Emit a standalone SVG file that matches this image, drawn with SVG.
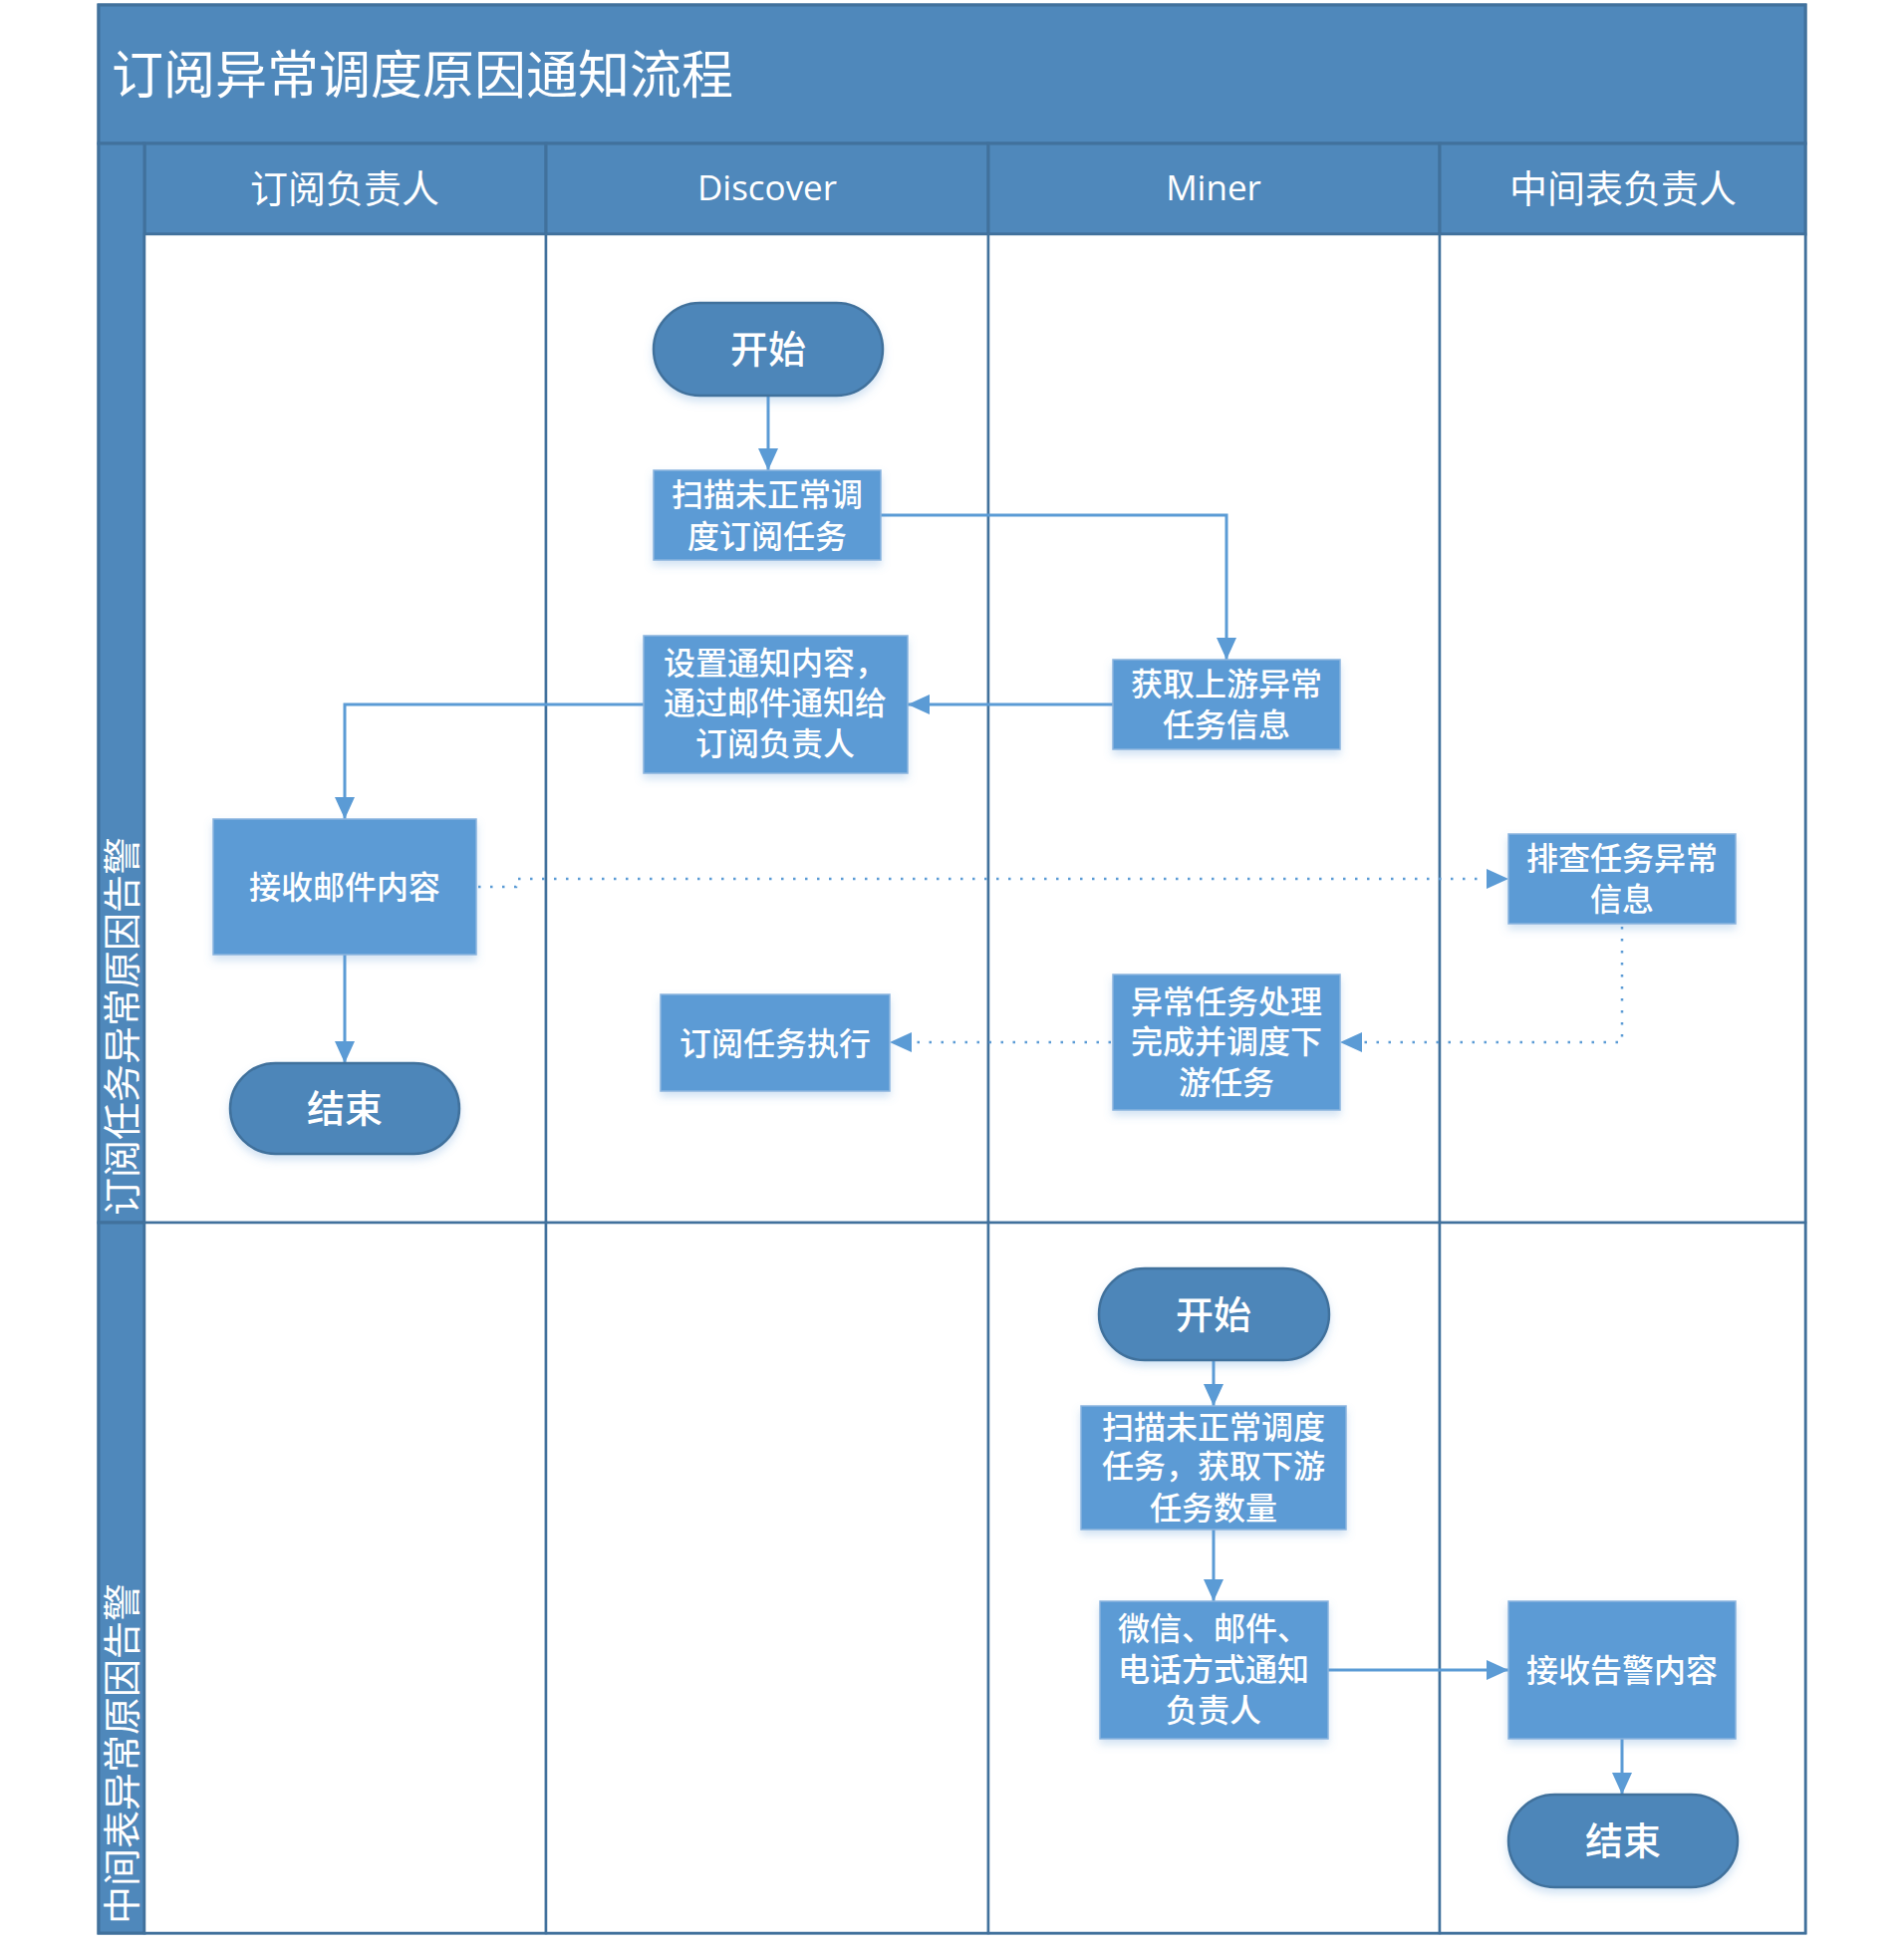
<svg xmlns="http://www.w3.org/2000/svg" width="1911" height="1958" viewBox="0 0 1911 1958">
<defs>
<style>
.band{fill:#4F88BB;stroke:#41719C;stroke-width:3}
.lane{fill:#FFFFFF;stroke:#41719C;stroke-width:2.5}
.hdr{fill:#FFFFFF;font-family:"Noto Sans CJK SC","Noto Sans",sans-serif;font-size:38px;text-anchor:middle;dominant-baseline:central}
.title{fill:#FFFFFF;font-family:"Noto Sans CJK SC",sans-serif;font-size:52px;dominant-baseline:central}
.proc{fill:#5B9BD5;stroke:#8AB4DE;stroke-width:1.5;filter:url(#sh)}
.term{fill:#4E86B9;stroke:#41719C;stroke-width:2.5;filter:url(#sh)}
.t{fill:#FFFFFF;font-family:"Noto Sans CJK SC",sans-serif;font-size:32px;font-weight:500;text-anchor:middle;dominant-baseline:central}
.tt{fill:#FFFFFF;font-family:"Noto Sans CJK SC",sans-serif;font-size:38px;font-weight:500;text-anchor:middle;dominant-baseline:central}
.c{fill:none;stroke:#5B9BD5;stroke-width:3}
.d{fill:none;stroke:#5B9BD5;stroke-width:2.5;stroke-dasharray:2.5 9.5}
</style>
<filter id="sh" x="-10%" y="-10%" width="120%" height="130%">
<feDropShadow dx="0" dy="5" stdDeviation="4" flood-color="#5B9BD5" flood-opacity="0.28"/>
</filter>
<marker id="ar" markerUnits="userSpaceOnUse" markerWidth="24" markerHeight="20" refX="22" refY="10" orient="auto">
<path d="M0,0 L22,10 L0,20 Z" fill="#5B9BD5"/>
</marker>
</defs>

<g id="pool">
<rect class="band" x="99" y="5" width="1713" height="1935"/>
<rect class="band" x="99" y="5" width="1713" height="139"/>
<text class="title" x="112" y="71">订阅异常调度原因通知流程</text>
<rect class="band" x="145" y="144" width="403" height="91"/>
<rect class="band" x="548" y="144" width="444" height="91"/>
<rect class="band" x="992" y="144" width="453" height="91"/>
<rect class="band" x="1445" y="144" width="367" height="91"/>
<text class="hdr" x="346" y="186">订阅负责人</text>
<text class="hdr" x="770" y="187" style="font-family:'Open Sans','Noto Sans',sans-serif;font-size:35px">Discover</text>
<text class="hdr" x="1218" y="187" style="font-family:'Open Sans','Noto Sans',sans-serif;font-size:35px">Miner</text>
<text class="hdr" x="1629" y="186">中间表负责人</text>
<rect class="band" x="99" y="144" width="46" height="1083"/>
<rect class="band" x="99" y="1227" width="46" height="713"/>
<text class="hdr" style="text-anchor:start" transform="translate(119,1220) rotate(-90)">订阅任务异常原因告警</text>
<text class="hdr" style="text-anchor:start" transform="translate(119,1931) rotate(-90)">中间表异常原因告警</text>
<rect class="lane" x="145" y="235" width="403" height="992"/>
<rect class="lane" x="548" y="235" width="444" height="992"/>
<rect class="lane" x="992" y="235" width="453" height="992"/>
<rect class="lane" x="1445" y="235" width="367" height="992"/>
<rect class="lane" x="145" y="1227" width="403" height="713"/>
<rect class="lane" x="548" y="1227" width="444" height="713"/>
<rect class="lane" x="992" y="1227" width="453" height="713"/>
<rect class="lane" x="1445" y="1227" width="367" height="713"/>
</g>

<g id="connectors">
<path class="c" d="M771,397 L771,472" marker-end="url(#ar)"/>
<path class="c" d="M884,517 L1231,517 L1231,662" marker-end="url(#ar)"/>
<path class="c" d="M1117,707 L911,707" marker-end="url(#ar)"/>
<path class="c" d="M646,707 L346,707 L346,822" marker-end="url(#ar)"/>
<path class="c" d="M346,958 L346,1067" marker-end="url(#ar)"/>
<path class="d" d="M480,890 L518,890 L518,882 L1500,882"/>
<path class="c" d="M1492,882 L1514,882" marker-end="url(#ar)" style="stroke:none"/>
<path class="d" d="M1628,930 L1628,1046 L1360,1046"/>
<path class="c" d="M1365,1046 L1345,1046" marker-end="url(#ar)" style="stroke:none"/>
<path class="d" d="M1115,1046 L908,1046"/>
<path class="c" d="M913,1046 L893,1046" marker-end="url(#ar)" style="stroke:none"/>
<path class="c" d="M1218,1365 L1218,1411" marker-end="url(#ar)"/>
<path class="c" d="M1218,1535 L1218,1607" marker-end="url(#ar)"/>
<path class="c" d="M1333,1676 L1514,1676" marker-end="url(#ar)"/>
<path class="c" d="M1628,1745 L1628,1801" marker-end="url(#ar)"/>
</g>

<g id="start1">
<rect class="term" x="656" y="304" width="230" height="93" rx="46.5"/>
<text class="tt" x="771" y="347">开始</text>
</g>
<g id="scan1">
<rect class="proc" x="656" y="472" width="228" height="90"/>
<text class="t" x="770" y="494">扫描未正常调</text>
<text class="t" x="770" y="536">度订阅任务</text>
</g>
<g id="setnotify">
<rect class="proc" x="646" y="638" width="265" height="138"/>
<text class="t" x="778" y="663">设置通知内容，</text>
<text class="t" x="778" y="703">通过邮件通知给</text>
<text class="t" x="778" y="744">订阅负责人</text>
</g>
<g id="getupstream">
<rect class="proc" x="1117" y="662" width="228" height="90"/>
<text class="t" x="1231" y="684">获取上游异常</text>
<text class="t" x="1231" y="725">任务信息</text>
</g>
<g id="recvmail">
<rect class="proc" x="214" y="822" width="264" height="136"/>
<text class="t" x="346" y="888">接收邮件内容</text>
</g>
<g id="end1">
<rect class="term" x="231" y="1067" width="230" height="91" rx="45.5"/>
<text class="tt" x="346" y="1109">结束</text>
</g>
<g id="check">
<rect class="proc" x="1514" y="837" width="228" height="90"/>
<text class="t" x="1628" y="859">排查任务异常</text>
<text class="t" x="1628" y="900">信息</text>
</g>
<g id="handle">
<rect class="proc" x="1117" y="978" width="228" height="136"/>
<text class="t" x="1231" y="1003">异常任务处理</text>
<text class="t" x="1231" y="1043">完成并调度下</text>
<text class="t" x="1231" y="1084">游任务</text>
</g>
<g id="exec">
<rect class="proc" x="663" y="998" width="230" height="97"/>
<text class="t" x="778" y="1045">订阅任务执行</text>
</g>

<g id="start2">
<rect class="term" x="1103" y="1273" width="231" height="92" rx="46"/>
<text class="tt" x="1218" y="1316">开始</text>
</g>
<g id="scan2">
<rect class="proc" x="1085" y="1411" width="266" height="124"/>
<text class="t" x="1218" y="1430">扫描未正常调度</text>
<text class="t" x="1218" y="1469">任务，获取下游</text>
<text class="t" x="1218" y="1511">任务数量</text>
</g>
<g id="notify2">
<rect class="proc" x="1104" y="1607" width="229" height="138"/>
<text class="t" x="1218" y="1632">微信、邮件、</text>
<text class="t" x="1218" y="1673">电话方式通知</text>
<text class="t" x="1218" y="1714">负责人</text>
</g>
<g id="recvalert">
<rect class="proc" x="1514" y="1607" width="228" height="138"/>
<text class="t" x="1628" y="1674">接收告警内容</text>
</g>
<g id="end2">
<rect class="term" x="1514" y="1801" width="230" height="93" rx="46.5"/>
<text class="tt" x="1629" y="1844">结束</text>
</g>
</svg>
